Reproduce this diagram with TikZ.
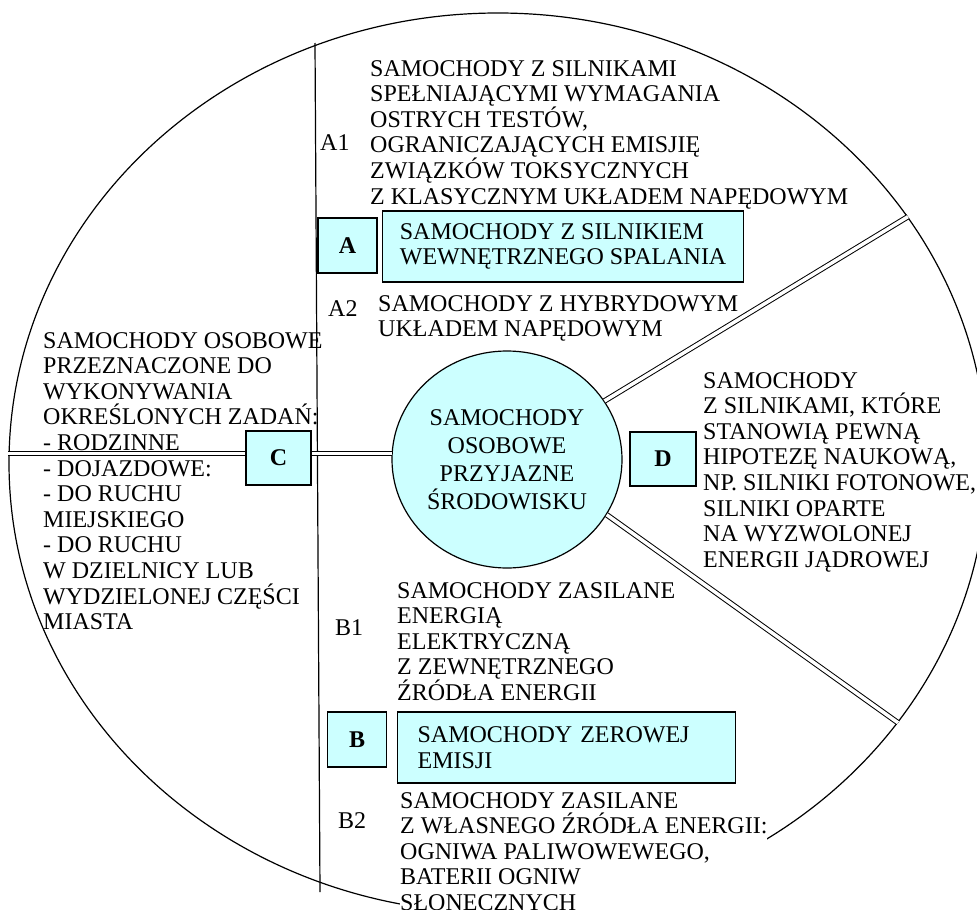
\documentclass[tikz,border=0pt]{standalone}
\usepackage{fontspec}
\setmainfont{Liberation Serif}
\usetikzlibrary{shapes.geometric}
\definecolor{lightcyan}{HTML}{CCFFFF}

\begin{document}
\begin{tikzpicture}[x=1pt,y=-1pt,
  txt/.style={anchor=base west,inner sep=0pt,align=left,font=\fontsize{24}{25.6}\selectfont},
  letterbox/.style={draw,line width=1.2pt,fill=lightcyan,minimum width=59pt,minimum height=55pt,inner sep=0pt,font=\fontsize{24}{25.6}\selectfont\bfseries},
  namebox/.style={draw,line width=1.2pt,fill=lightcyan,anchor=west,minimum height=71pt,inner ysep=0pt,align=left,font=\fontsize{24}{25.6}\selectfont},
  dbl/.style={double,double distance=3.5pt,line width=1pt}]
  \useasboundingbox (0,0) rectangle (977,910);
  \node[ellipse,draw,line width=1.2pt,minimum width=978pt,minimum height=900pt,inner sep=0pt] (rim) at (498,463) {};
  \coordinate (vtop) at (315,43);
  \coordinate (vbot) at (320,892);
  \draw[line width=1.2pt] (vtop) -- (vbot);

  \node[txt] (a1text) at (370,204) {SAMOCHODY Z SILNIKAMI\\SPEŁNIAJĄCYMI WYMAGANIA\\OSTRYCH TESTÓW,\\OGRANICZAJĄCYCH EMISJIĘ\\ZWIĄZKÓW TOKSYCZNYCH\\Z KLASYCZNYM UKŁADEM NAPĘDOWYM};
  \node[txt] (a1) at (320,150.5) {A1};
  \node[txt] (a2) at (328,316.5) {A2};
  \node[txt] (a2text) at (378,336.6) {SAMOCHODY Z HYBRYDOWYM\\UKŁADEM NAPĘDOWYM};
  \node[txt] (ctext) at (43,629.6) {SAMOCHODY OSOBOWE\\PRZEZNACZONE DO\\WYKONYWANIA\\OKREŚLONYCH ZADAŃ:\\- RODZINNE\\- DOJAZDOWE:\\- DO RUCHU\\MIEJSKIEGO\\- DO RUCHU\\W DZIELNICY LUB\\WYDZIELONEJ CZĘŚCI\\MIASTA};
  \node[txt] (dtext) at (703,567.2) {SAMOCHODY\\Z SILNIKAMI, KTÓRE\\STANOWIĄ PEWNĄ\\HIPOTEZĘ NAUKOWĄ,\\NP. SILNIKI FOTONOWE,\\SILNIKI OPARTE\\NA WYZWOLONEJ\\ENERGII JĄDROWEJ};
  \node[txt] (b1) at (335,635) {B1};
  \node[txt] (b1text) at (397,700.4) {SAMOCHODY ZASILANE\\ENERGIĄ\\ELEKTRYCZNĄ\\Z ZEWNĘTRZNEGO\\ŹRÓDŁA ENERGII};
  \node[txt] (b2) at (338,828) {B2};
  \node[txt,fill=white] (b2text) at (400,910.4) {SAMOCHODY ZASILANE\\Z WŁASNEGO ŹRÓDŁA ENERGII:\\OGNIWA PALIWOWEWEGO,\\BATERII OGNIW\\SŁONECZNYCH};

  \node[ellipse,draw,line width=1.2pt,fill=lightcyan,minimum width=230pt,minimum height=217pt,inner sep=0pt,align=center,font=\fontsize{24}{28}\selectfont] (hub) at (507,459.5) {SAMOCHODY\\OSOBOWE\\PRZYJAZNE\\ŚRODOWISKU};

  \draw[dbl] (hub.177) -- (hub.177 -| rim.west);
  \draw[dbl] (hub.31) -- (rim.31);
  \draw[dbl] (hub.-29) -- (rim.-33.7);

  \node[letterbox] (a) at (347.5,245.5) {A};
  \node[namebox,minimum width=361pt] (aname) at (382,246.5) {SAMOCHODY Z SILNIKIEM\\WEWNĘTRZNEGO SPALANIA};
  \node[letterbox] (b) at (357,739.5) {B};
  \node[namebox,minimum width=338pt,inner xsep=20pt,text width=298pt] (bname) at (397,747.5) {SAMOCHODY ZEROWEJ\\EMISJI};
  \node[letterbox,minimum width=65pt,minimum height=54pt] (c) at (278.5,458) {C};
  \node[letterbox,minimum width=66pt,minimum height=54pt] (d) at (663,459) {D};
\end{tikzpicture}
\end{document}
